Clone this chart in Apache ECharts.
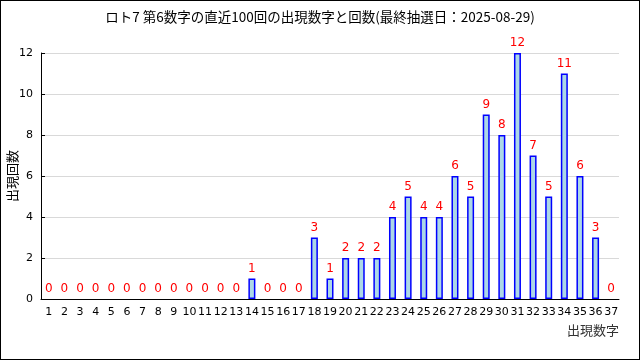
<!DOCTYPE html>
<html><head><meta charset="utf-8">
<script src="https://cdn.jsdelivr.net/npm/echarts@6/dist/echarts.min.js"></script>
<style>html,body{margin:0;padding:0;background:#fff}#c{width:640px;height:360px;box-sizing:border-box;border:1px solid #000}</style>
</head><body><div id="c"></div>
<script>
const titleText = 'ロト7 第6数字の直近100回の出現数字と回数(最終抽選日：2025-08-29)';
const categories = ['1','2','3','4','5','6','7','8','9','10','11','12','13','14','15','16','17','18','19','20','21','22','23','24','25','26','27','28','29','30','31','32','33','34','35','36','37'];
const counts = [0,0,0,0,0,0,0,0,0,0,0,0,0,1,0,0,0,3,1,2,2,2,4,5,4,4,6,5,9,8,12,7,5,11,6,3,0];
const xName = '出現数字';
const yName = '出現回数';

const barData = counts.map(v => v === 0 ? {value:v, itemStyle:{borderWidth:0, color:'rgba(0,0,0,0)'}} : v);

const chart = echarts.init(document.getElementById('c'), null, {renderer:'canvas'});
chart.setOption({
  animation:false,
  title:{text:titleText,left:'center',top:4,textStyle:{fontFamily:'Noto Sans CJK JP',fontSize:13.5,fontWeight:'normal',color:'#000'}},
  grid:{left:40,right:20,top:52,bottom:60,containLabel:false,outerBoundsMode:'none'},
  xAxis:{type:'category',data:categories,
    name:xName,nameLocation:'end',nameGap:0,nameMoveOverlap:false,
    nameTextStyle:{fontFamily:'Noto Sans CJK JP',fontSize:13,color:'#333',align:'right',verticalAlign:'top',padding:[25,0,0,0]},
    axisLine:{lineStyle:{color:'#000',width:1}},
    axisTick:{inside:true,length:5,lineStyle:{color:'#000'}},
    axisLabel:{fontFamily:'DejaVu Sans',fontSize:11,color:'#000',margin:8,interval:0}},
  yAxis:{type:'value',min:0,max:12,interval:2,
    name:yName,nameLocation:'middle',nameGap:22,nameRotate:90,nameMoveOverlap:false,
    nameTextStyle:{fontFamily:'Noto Sans CJK JP',fontSize:13,color:'#000'},
    axisLine:{show:true,lineStyle:{color:'#000',width:1}},
    axisTick:{show:true,inside:true,length:4,lineStyle:{color:'#000'}},
    axisLabel:{fontFamily:'DejaVu Sans',fontSize:11,color:'#000',margin:8},
    splitLine:{lineStyle:{color:'#d9d9d9',width:1}}},
  series:[{type:'bar',data:barData,barWidth:7,
    itemStyle:{color:'#add8e6',borderColor:'#0000ff',borderWidth:1.5},
    label:{show:true,position:'top',distance:4,color:'#ff0000',fontFamily:'DejaVu Sans',fontSize:12}}]
});
</script></body></html>
